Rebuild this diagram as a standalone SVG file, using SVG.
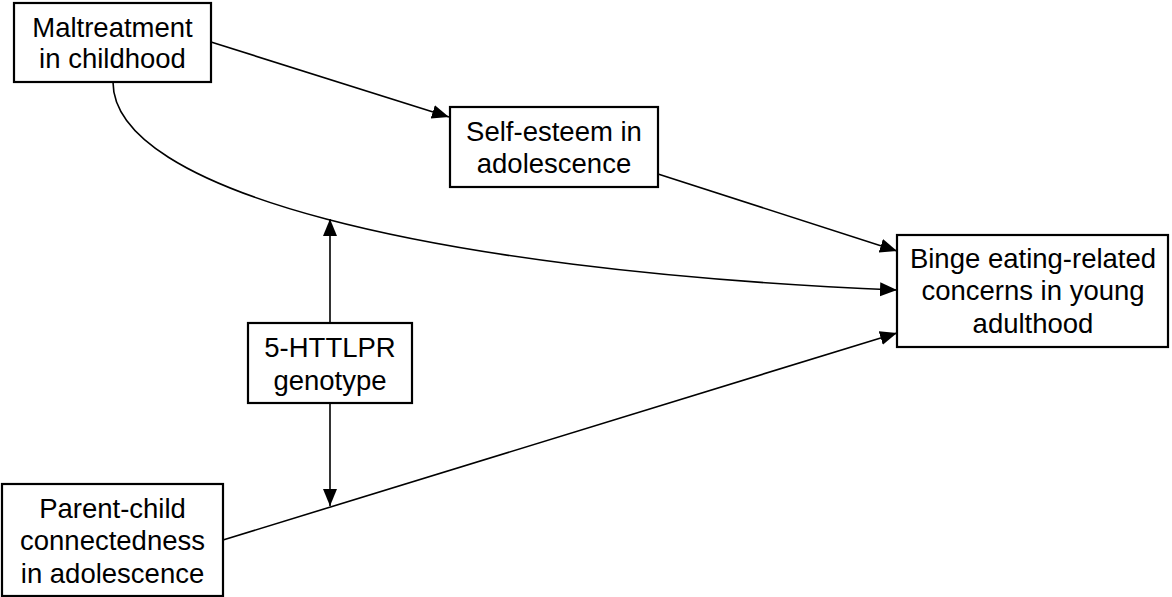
<svg xmlns="http://www.w3.org/2000/svg" width="1172" height="597" viewBox="0 0 1172 597">
<defs>
<marker id="ah" markerUnits="userSpaceOnUse" markerWidth="20" markerHeight="16" refX="17" refY="7" orient="auto">
<path d="M0,0 L17,7 L0,14 z" fill="#000"/>
</marker>
<style>
.box{fill:#fff;stroke:#000;stroke-width:2.2}
.lbl{font-family:"Liberation Sans",Arial,sans-serif;font-size:27.5px;fill:#000;text-anchor:middle}
.edge{fill:none;stroke:#000;stroke-width:1.6;marker-end:url(#ah)}
</style>
</defs>
<rect width="1172" height="597" fill="#fff"/>
<g id="connectors">
<line class="edge" x1="211" y1="42" x2="449" y2="117"/>
<line class="edge" x1="658" y1="174" x2="897" y2="251"/>
<path class="edge" d="M113,82 C113,190 420,270 897,290"/>
<line class="edge" x1="223" y1="540" x2="897" y2="333"/>
<line class="edge" x1="330" y1="323" x2="330" y2="219"/>
<line class="edge" x1="330" y1="403" x2="330" y2="506"/>
</g>
<g id="maltreatment">
<rect class="box" x="14" y="3" width="197" height="79"/>
<text class="lbl" x="112.5" y="37">Maltreatment</text>
<text class="lbl" x="112.5" y="68">in childhood</text>
</g>
<g id="selfesteem">
<rect class="box" x="450" y="107" width="208" height="80"/>
<text class="lbl" x="554" y="141">Self-esteem in</text>
<text class="lbl" x="554" y="173">adolescence</text>
</g>
<g id="binge">
<rect class="box" x="897" y="235" width="271" height="112"/>
<text class="lbl" x="1033" y="268">Binge eating-related</text>
<text class="lbl" x="1033" y="300">concerns in young</text>
<text class="lbl" x="1033" y="333">adulthood</text>
</g>
<g id="genotype">
<rect class="box" x="248" y="323" width="164" height="80"/>
<text class="lbl" x="330" y="357">5-HTTLPR</text>
<text class="lbl" x="330" y="390">genotype</text>
</g>
<g id="parentchild">
<rect class="box" x="2" y="484" width="221" height="112"/>
<text class="lbl" x="112.5" y="518">Parent-child</text>
<text class="lbl" x="112.5" y="550">connectedness</text>
<text class="lbl" x="112.5" y="583">in adolescence</text>
</g>
</svg>
